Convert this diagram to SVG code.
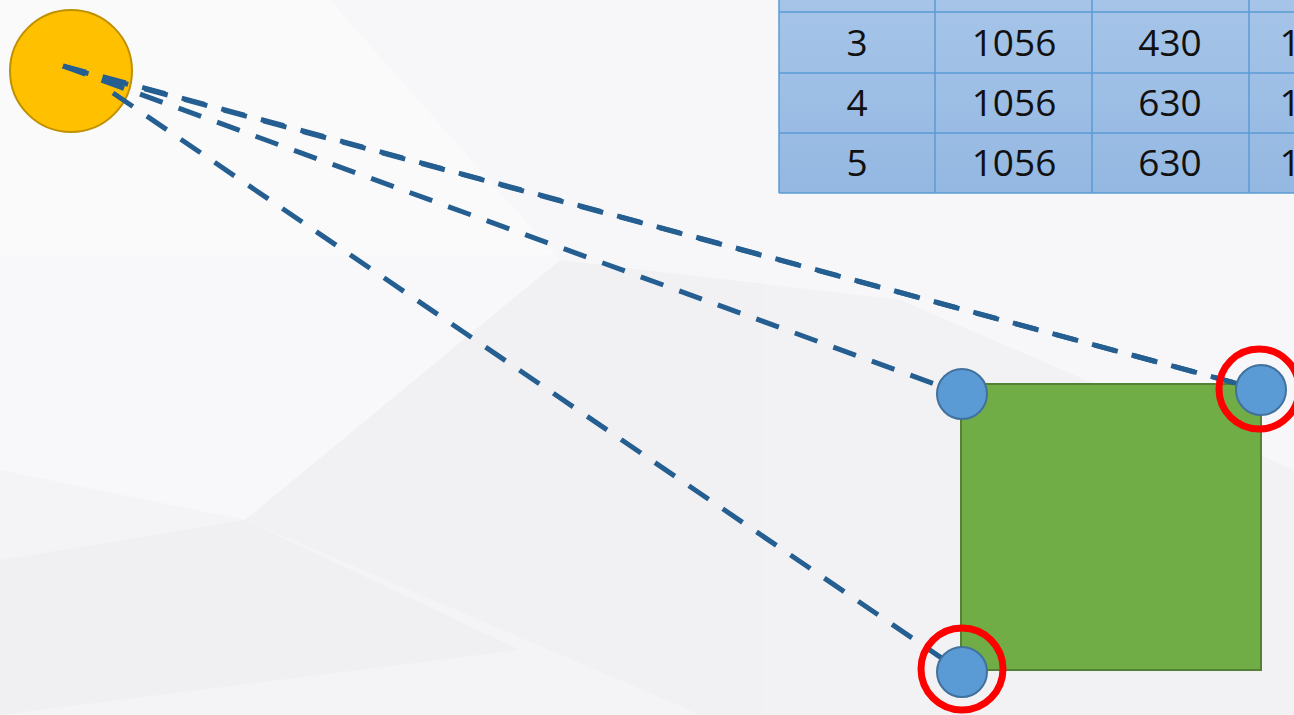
<svg xmlns="http://www.w3.org/2000/svg" width="1294" height="715" viewBox="0 0 1294 715">
<defs>
<linearGradient id="tbl" x1="0" y1="0" x2="0" y2="1">
<stop offset="0" stop-color="#A6C4E8"/>
<stop offset="1" stop-color="#94B8E2"/>
</linearGradient>
<style>
.cell{fill:none;stroke:#5B9BD5;stroke-width:1.5}
.num{font-family:"Open Sans","Liberation Sans",sans-serif;font-size:37px;fill:#111;text-anchor:middle}
.ray{fill:none;stroke:#255E91;stroke-width:5;stroke-dasharray:24 17}
.pt{fill:#5B9BD5;stroke:#41719C;stroke-width:2}
.ring{fill:none;stroke:#FF0000;stroke-width:7}
</style>
</defs>
<rect width="1294" height="715" fill="#F7F7F9"/>
<g id="background" opacity="0.9">
<polygon points="0,0 330,0 560,260 245,520 0,470" fill="#F9F9FB"/>
<polygon points="245,520 560,260 900,300 1294,470 1294,715 700,715" fill="#F1F1F3"/>
<polygon points="0,470 245,520 700,715 0,715" fill="#F4F4F6"/>
<polygon points="0,560 245,520 520,650 0,715" fill="#F0F0F2"/>
</g>
<g id="table">
<rect x="779" y="-2" width="520" height="195" fill="url(#tbl)"/>
<line class="cell" x1="779" y1="12" x2="1294" y2="12"/>
<line class="cell" x1="779" y1="73" x2="1294" y2="73"/>
<line class="cell" x1="779" y1="133" x2="1294" y2="133"/>
<line class="cell" x1="779" y1="193" x2="1294" y2="193"/>
<line class="cell" x1="779" y1="0" x2="779" y2="193"/>
<line class="cell" x1="935" y1="0" x2="935" y2="193"/>
<line class="cell" x1="1092" y1="0" x2="1092" y2="193"/>
<line class="cell" x1="1249" y1="0" x2="1249" y2="193"/>
<text class="num" x="857" y="56">3</text>
<text class="num" x="1014" y="56">1056</text>
<text class="num" x="1170" y="56">430</text>
<text class="num" x="1290" y="56">1</text>
<text class="num" x="857" y="116">4</text>
<text class="num" x="1014" y="116">1056</text>
<text class="num" x="1170" y="116">630</text>
<text class="num" x="1290" y="116">1</text>
<text class="num" x="857" y="176">5</text>
<text class="num" x="1014" y="176">1056</text>
<text class="num" x="1170" y="176">630</text>
<text class="num" x="1290" y="176">1</text>
</g>
<g id="sun">
<circle cx="71" cy="71" r="61" fill="#FFC000" stroke="#BF9000" stroke-width="2"/>
</g>
<g id="square">
<rect x="961" y="384" width="300" height="286" fill="#70AD47" stroke="#548235" stroke-width="2"/>
</g>
<g id="connectors">
<line class="ray" x1="63" y1="66" x2="1261" y2="390"/>
<line class="ray" x1="63" y1="66" x2="962" y2="394"/>
<line class="ray" x1="113" y1="93" x2="962" y2="672"/>
<line class="ray" x1="75" y1="70" x2="1261" y2="390" stroke-dashoffset="10"/>
</g>
<g id="point-tl"><circle class="pt" cx="962" cy="394" r="25"/></g>
<g id="point-tr"><circle class="pt" cx="1261" cy="390" r="25"/></g>
<g id="point-bl"><circle class="pt" cx="962" cy="672" r="25"/></g>
<g id="ring-tr"><circle class="ring" cx="1259" cy="389" r="40"/></g>
<g id="ring-bl"><circle class="ring" cx="962" cy="669" r="41"/></g>
</svg>
